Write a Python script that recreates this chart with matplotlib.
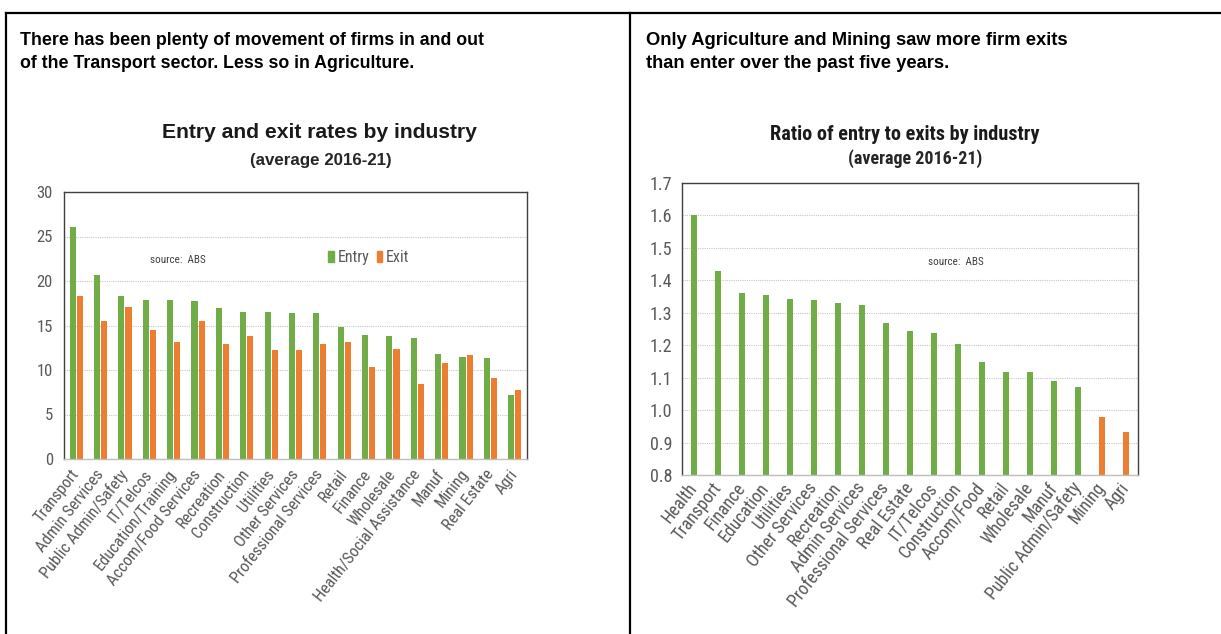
import matplotlib
matplotlib.use("Agg")
import matplotlib.pyplot as plt
from matplotlib.lines import Line2D
from matplotlib.patches import Patch
import numpy as np

# ---- data ----
left_categories = ["Transport", "Admin Services", "Public Admin/Safety", "IT/Telcos",
                   "Education/Training", "Accom/Food Services", "Recreation", "Construction",
                   "Utilities", "Other Services", "Professional Services", "Retail", "Finance",
                   "Wholesale", "Health/Social Assistance", "Manuf", "Mining", "Real Estate", "Agri"]
entry_rates = [26.1, 20.7, 18.3, 17.9, 17.9, 17.7, 17.0, 16.5, 16.5, 16.4, 16.4, 14.8, 13.9,
               13.8, 13.6, 11.8, 11.5, 11.3, 7.2]
exit_rates = [18.3, 15.5, 17.1, 14.5, 13.2, 15.5, 12.9, 13.8, 12.2, 12.2, 12.9, 13.2, 10.3,
              12.4, 8.4, 10.8, 11.7, 9.1, 7.7]

right_categories = ["Health", "Transport", "Finance", "Education", "Utilities", "Other Services",
                    "Recreation", "Admin Services", "Professional Services", "Real Estate",
                    "IT/Telcos", "Construction", "Accom/Food", "Retail", "Wholesale", "Manuf",
                    "Public Admin/Safety", "Mining", "Agri"]
ratio_values = [1.602, 1.430, 1.360, 1.354, 1.344, 1.338, 1.329, 1.324, 1.267, 1.243, 1.238,
                1.203, 1.148, 1.117, 1.117, 1.091, 1.071, 0.980, 0.934]

left_yticks = [0, 5, 10, 15, 20, 25, 30]
right_yticks = [0.8, 0.9, 1.0, 1.1, 1.2, 1.3, 1.4, 1.5, 1.6, 1.7]

GREEN = "#70AD47"
ORANGE = "#ED7D31"
TICK = "#595959"
NARROW = ["Roboto Condensed", "Liberation Sans", "DejaVu Sans"]
HEAD = ["Liberation Sans", "DejaVu Sans"]
plt.rcParams["font.family"] = NARROW

W, H = 1221, 634
fig = plt.figure(figsize=(W / 100, H / 100), dpi=100)

# ---- panel frames ----
fig.add_artist(Line2D([6 / W, 1.0], [1 - 13 / H, 1 - 13 / H], color="black", lw=1.6))
fig.add_artist(Line2D([6 / W, 6 / W], [0, 1 - 13 / H], color="black", lw=1.6))
fig.add_artist(Line2D([630 / W, 630 / W], [0, 1 - 13 / H], color="black", lw=1.6))

# ---- header texts ----
for xx, fs, lines in [(20, 12.8, ["There has been plenty of movement of firms in and out",
                                  "of the Transport sector. Less so in Agriculture."]),
                      (646, 13.2, ["Only Agriculture and Mining saw more firm exits",
                                   "than enter over the past five years."])]:
    for yy, line in zip([45, 68], lines):
        fig.text(xx / W, 1 - yy / H, line, fontsize=fs, fontweight="bold",
                 family=HEAD, va="baseline", ha="left")


def style_axes(ax, ysize, xsize, rot):
    for s in ["left", "top", "right"]:
        ax.spines[s].set_color("#404040")
        ax.spines[s].set_linewidth(1.0)
    ax.spines["bottom"].set_color("#bfbfbf")
    ax.spines["bottom"].set_linewidth(1.0)
    ax.grid(axis="y", color="#c8c8c8", linestyle=(0, (1, 1)), linewidth=0.8)
    ax.set_axisbelow(True)
    ax.tick_params(axis="both", length=0, colors=TICK)
    for lab in ax.get_yticklabels():
        lab.set_fontsize(ysize)
    for lab in ax.get_xticklabels():
        lab.set_fontsize(xsize)
        lab.set_rotation(rot)
        lab.set_ha("right")
        lab.set_va("center")
        lab.set_rotation_mode("anchor")


# ---- left chart ----
axL = fig.add_axes([64 / W, 1 - 459 / H, 463 / W, 267 / H])
x = np.arange(len(left_categories))
axL.bar(x - 0.145, entry_rates, width=0.25, color=GREEN, label="Entry")
axL.bar(x + 0.145, exit_rates, width=0.25, color=ORANGE, label="Exit")
axL.set_xlim(-0.5, len(left_categories) - 0.5)
axL.set_ylim(0, 30)
axL.set_yticks(left_yticks)
axL.set_xticks(x)
axL.set_xticklabels(left_categories)
axL.tick_params(axis="y", pad=8)
axL.tick_params(axis="x", pad=9)
style_axes(axL, 12, 11.8, 52)
leg = axL.legend(handles=[Patch(color=GREEN, label="Entry"), Patch(color=ORANGE, label="Exit")],
                 loc="center left", bbox_to_anchor=(0.553, 0.755), ncol=2, frameon=False,
                 handlelength=0.35, handleheight=0.65, handletextpad=0.25, columnspacing=0.45,
                 borderpad=0.0, prop={"size": 11.5})
for t in leg.get_texts():
    t.set_color(TICK)
axL.text(0.185, 0.745, "source:  ABS", transform=axL.transAxes, fontsize=8,
         color="#404040", va="center")
fig.text(319 / W, 1 - 132 / H, "Entry and exit rates by industry", ha="center", va="center",
         fontsize=15.2, fontweight="bold", family=HEAD, color="#1a1a1a")
fig.text(321 / W, 1 - 161 / H, "(average 2016-21)", ha="center", va="center",
         fontsize=12.2, fontweight="bold", family=HEAD, color="#262626")

# ---- right chart ----
axR = fig.add_axes([682 / W, 1 - 475 / H, 456 / W, 292 / H])
xr = np.arange(len(right_categories))
colors = [GREEN if v >= 1 else ORANGE for v in ratio_values]
axR.bar(xr, ratio_values, width=0.29, color=colors)
axR.set_xlim(-0.5, len(right_categories) - 0.5)
axR.set_ylim(0.8, 1.7)
axR.set_yticks(right_yticks)
axR.set_yticklabels([f"{v:.1f}" for v in right_yticks])
axR.set_xticks(xr)
axR.set_xticklabels(right_categories)
axR.tick_params(axis="y", pad=7)
axR.tick_params(axis="x", pad=7)
style_axes(axR, 13, 12.8, 52)
axR.text(0.54, 0.73, "source:  ABS", transform=axR.transAxes, fontsize=8,
         color="#404040", va="center")
fig.text(905 / W, 1 - 134 / H, "Ratio of entry to exits by industry", ha="center", va="center",
         fontsize=14.6, fontweight="bold", color="#1a1a1a")
fig.text(915 / W, 1 - 159 / H, "(average 2016-21)", ha="center", va="center",
         fontsize=13, fontweight="bold", color="#262626")

fig.savefig("out.png", dpi=100, facecolor="white")
